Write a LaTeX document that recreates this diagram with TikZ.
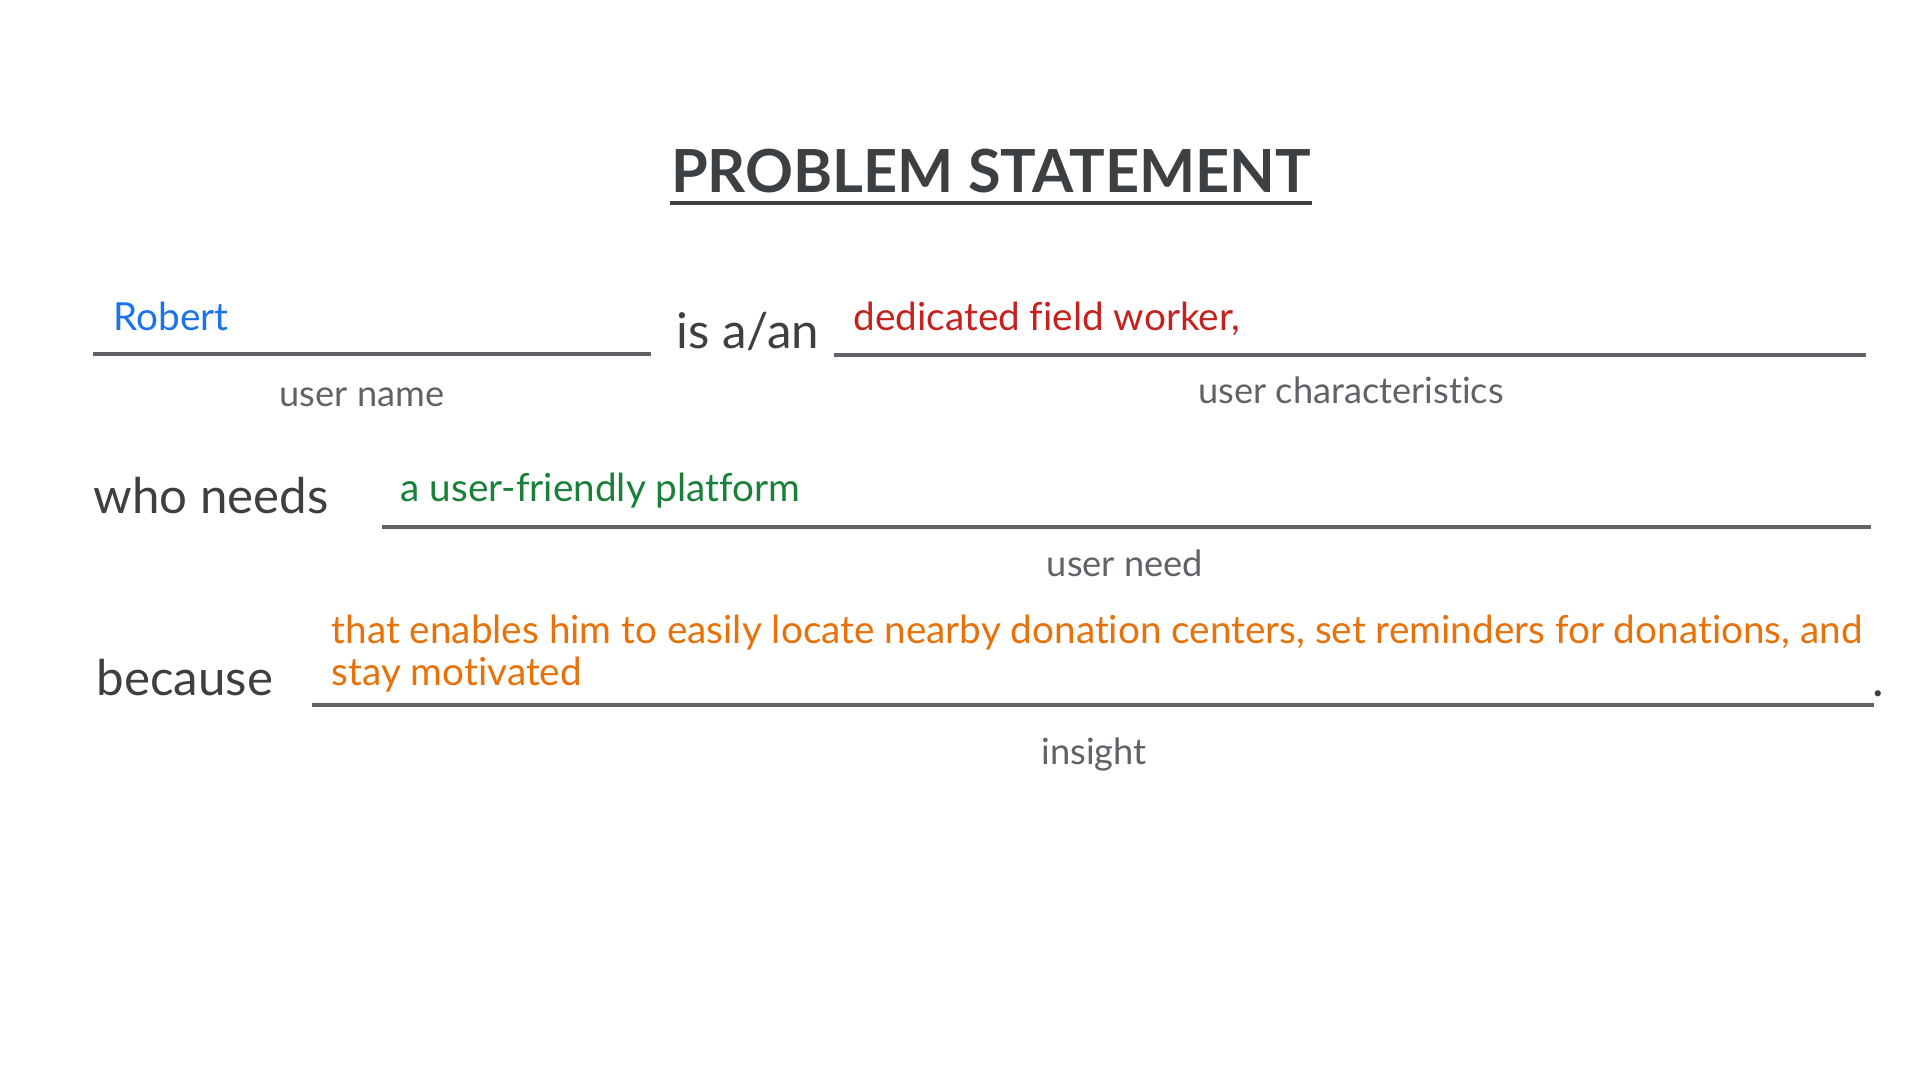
\documentclass[tikz,border=0pt]{standalone}
\usepackage{fontspec}
\setmainfont{Lato}[Ligatures=NoCommon]
\usetikzlibrary{positioning}

\definecolor{inkgrey}{HTML}{3C4043}
\definecolor{linegrey}{HTML}{5F6368}
\definecolor{gblue}{HTML}{1A73E8}
\definecolor{gred}{HTML}{C5221F}
\definecolor{ggreen}{HTML}{188038}
\definecolor{gorange}{HTML}{E8710A}

\tikzstyle{heading} = [anchor=base,inner sep=0pt,text=inkgrey,font=\fontsize{16.9}{20}\selectfont\bfseries]
\tikzstyle{word} = [anchor=base west,inner sep=0pt,text=inkgrey,font=\fontsize{14}{16}\selectfont]
\tikzstyle{fillin} = [anchor=base west,inner sep=0pt,align=left,font=\fontsize{11}{12.2}\selectfont]
\tikzstyle{hint} = [anchor=base,inner sep=0pt,text=linegrey,font=\fontsize{10.3}{12}\selectfont]
\tikzstyle{blank} = [draw=linegrey,line width=1pt]

\begin{document}
\begin{tikzpicture}[x=0.01cm,y=-0.01cm]
	\useasboundingbox [fill=white] (0,0) rectangle (1920,1080);
	% title
	\node (title) [heading] at (991,193) {PROBLEM STATEMENT};
	\coordinate (ul) at (0,203);
	\draw [draw=inkgrey,line width=1.3pt] (title.west |- ul) -- (title.east |- ul);
	% row 1
	\coordinate (b1a) at (93,354);
	\coordinate (b1b) at (651,354);
	\coordinate (b2a) at (834,355);
	\coordinate (b2b) at (1866,355);
	\draw [blank] (b1a) -- (b1b);
	\draw [blank] (b2a) -- (b2b);
	\node (name) [fillin,text=gblue] at (113,331) {Robert};
	\node (isa) [word] at (676,349) {is a/an};
	\node (trait) [fillin,text=gred] at (853,331) {dedicated field worker,};
	\node (namehint) [hint] at (362,407) {user name};
	\node (traithint) [hint] at (1351,404) {user characteristics};
	% row 2
	\coordinate (b3a) at (382,527);
	\coordinate (b3b) at (1871,527);
	\draw [blank] (b3a) -- (b3b);
	\node (needs) [word] at (93,514) {who needs};
	\node (need) [fillin,text=ggreen] at (400,502) {a user-friendly platform};
	\node (needhint) [hint] at (1125,577) {user need};
	% row 3 (base of a two-line node is its last line)
	\coordinate (b4a) at (312,705);
	\coordinate (b4b) at (1874,705);
	\draw [blank] (b4a) -- (b4b);
	\node (because) [word] at (96,696) {because};
	\node (insight) [fillin,text=gorange] at (331,686) {that enables him to easily locate nearby donation centers, set reminders for donations, and\\stay motivated};
	\node (stop) [word] at (1872,697) {.};
	\node (insighthint) [hint] at (1094,765) {insight};
\end{tikzpicture}
\end{document}
